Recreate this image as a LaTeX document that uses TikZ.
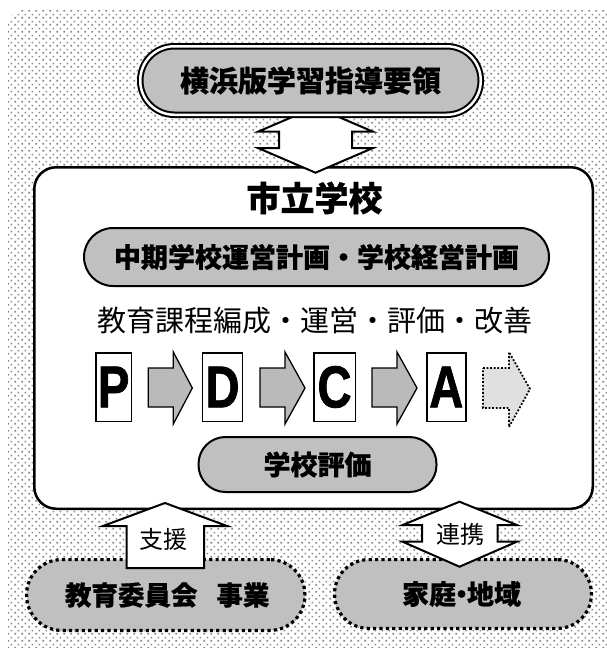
\documentclass[tikz,border=0pt]{standalone}
\usepackage{fontspec}
\usepackage{graphicx}
\newfontfamily\jp[BoldFeatures={FakeBold=0.6}]{Noto Sans CJK JP}
\newfontfamily\lat[BoldFeatures={FakeBold=1.4}]{Liberation Sans}
\usetikzlibrary{patterns.meta}
\definecolor{pillgray}{RGB}{192,192,192}
\definecolor{arrgray}{RGB}{186,186,186}
\definecolor{lightfill}{RGB}{224,224,224}
\definecolor{dotgray}{RGB}{135,135,135}
\tikzdeclarepattern{
  name=bgdots,
  type=uncolored,
  bounding box={(0pt,0pt) and (7pt,7pt)},
  tile size={(7pt,7pt)},
  code={
    \pgfpathrectangle{\pgfpoint{0.5pt}{0.5pt}}{\pgfpoint{1.9pt}{1.9pt}}
    \pgfpathrectangle{\pgfpoint{4pt}{4pt}}{\pgfpoint{1.9pt}{1.9pt}}
    \pgfusepath{fill}
  }
}
\tikzset{
  pillbox/.style={draw=black, line width=2pt, fill=pillgray, inner sep=0pt},
  dotpill/.style={draw=black, line width=3.2pt, dash pattern=on 3.2pt off 3.2pt, fill=pillgray, inner sep=0pt},
  lettbox/.style={draw=black, line width=1.5pt, fill=white, inner sep=0pt, minimum height=68.5pt,
    font=\lat\bfseries\fontsize{59}{59}\selectfont},
  grayarrow/.style={draw=black, line width=1.3pt, fill=arrgray, line join=miter},
  dotarrow/.style={draw=black, line width=1.8pt, dash pattern=on 1.8pt off 1.8pt, fill=lightfill},
  whitearrow/.style={draw=black, line width=2pt, fill=white, line join=miter},
  lbl/.style={inner sep=0pt},
}
\begin{document}
\begin{tikzpicture}[x=1pt, y=-1pt]
\useasboundingbox (0,0) rectangle (607,648);
% background
\begin{scope}
  \clip (0,0) rectangle (607,648);
  \fill[white] (0,0) rectangle (607,648);
  \fill[pattern=bgdots, pattern color=dotgray, rounded corners=15pt] (8,10) rectangle (650,690);
\end{scope}
% school box
\node[draw=black, line width=2.5pt, fill=white, rounded corners=22pt, minimum width=558.5pt, minimum height=341.5pt, inner sep=0pt] (school) at (313.5,338) {};
\node[lbl, font=\jp\bfseries\fontsize{34}{34}\selectfont] (title) at (314.5,198) {市立学校};
% top double arrow
\draw[whitearrow] (315.5,107) -- (373,131.7) -- (352,131.7) -- (352,148) -- (373,148) -- (315.5,172.7)
  -- (258,148) -- (279,148) -- (279,131.7) -- (258,131.7) -- cycle;
% top pill
\node[draw=black, line width=2pt, double=white, double distance=2.5pt, fill=pillgray, rounded corners=34pt,
  minimum width=340.5pt, minimum height=68.5pt, inner sep=0pt,
  font=\jp\bfseries\fontsize{29}{29}\selectfont] (guide) at (310.5,80.5) {横浜版学習指導要領};
% middle pill
\node[pillbox, rounded corners=29pt, minimum width=465pt, minimum height=58pt,
  font=\jp\bfseries\fontsize{27}{27}\selectfont] (plan) at (316.5,257) {中期学校運営計画・学校経営計画};
\node[lbl, font=\jp\fontsize{29}{29}\selectfont] (curr) at (314.5,321) {教育課程編成・運営・評価・改善};
% PDCA
\node[lettbox, minimum width=35.8pt] (P) at (113.65,387) {\scalebox{0.8}[1]{P}};
\node[lettbox, minimum width=40.1pt] (D) at (222.5,387) {\scalebox{0.8}[1]{D}};
\node[lettbox, minimum width=41.5pt] (C) at (334.5,387) {\scalebox{0.8}[1]{C}};
\node[lettbox, minimum width=39pt] (A) at (446.25,387) {\scalebox{0.8}[1]{A}};
\draw[grayarrow] (148.3,368) -- (173.3,368) -- (173.3,352) -- (192.3,388) -- (173.3,424) -- (173.3,407) -- (148.3,407) -- cycle;
\draw[grayarrow] (260,368) -- (285,368) -- (285,352) -- (305,388) -- (285,424) -- (285,407) -- (260,407) -- cycle;
\draw[grayarrow] (372,368) -- (397,368) -- (397,352) -- (417,388) -- (397,424) -- (397,407) -- (372,407) -- cycle;
\draw[dotarrow] (483,368) -- (509,368) -- (509,352) -- (530,389) -- (509,427) -- (509,408) -- (483,408) -- cycle;
% school evaluation pill
\node[pillbox, rounded corners=27pt, minimum width=238pt, minimum height=55pt,
  font=\jp\bfseries\fontsize{27}{27}\selectfont] (eval) at (317.5,464.5) {学校評価};
% bottom pills
\node[dotpill, rounded corners=35pt, minimum width=278.3pt, minimum height=70.8pt,
  font=\jp\bfseries\fontsize{26.5}{26.5}\selectfont] (board) at (165.75,595) {\hspace{3pt}教育委員会\hspace{19pt}事業};
\node[dotpill, rounded corners=34pt, minimum width=256.8pt, minimum height=68.8pt,
  font=\jp\bfseries\fontsize{27}{27}\selectfont] (home) at (463,594) {\hspace{-3pt}家庭\kern-8pt・\kern-8pt地域};
% support arrow
\draw[whitearrow] (165,503) -- (227,526) -- (204,526) -- (204,568) -- (126.7,568) -- (126.7,526) -- (103,526) -- cycle;
\node[lbl, font=\jp\fontsize{24}{24}\selectfont] (shien) at (163.5,539) {支援};
% cooperation double arrow
\draw[whitearrow] (459.5,501.7) -- (516.8,525) -- (497.5,525) -- (497.5,541.7) -- (516.8,541.7) -- (459.5,566.7)
  -- (402.6,541.7) -- (422,541.7) -- (422,525) -- (402.6,525) -- cycle;
\node[lbl, font=\jp\fontsize{24}{24}\selectfont] (renkei) at (460,534) {連携};
\end{tikzpicture}
\end{document}
